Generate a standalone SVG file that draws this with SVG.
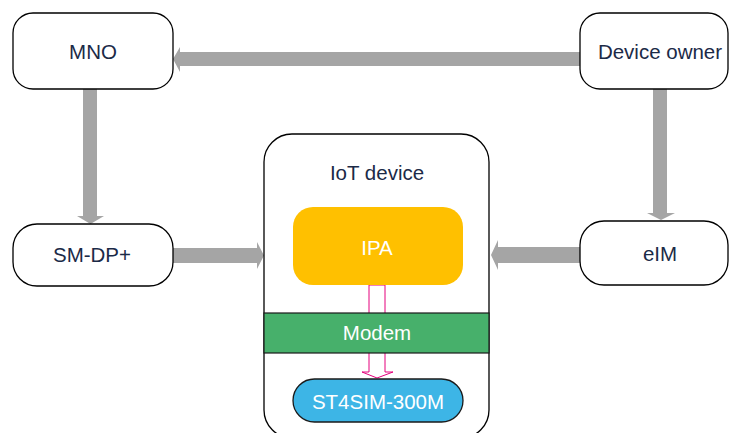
<svg xmlns="http://www.w3.org/2000/svg" width="729" height="433" viewBox="0 0 729 433">
<style>
.box{fill:#fff;stroke:#000;stroke-width:1.3}
.t{font-family:"Liberation Sans",Arial,sans-serif;font-size:20.5px;text-anchor:middle;dominant-baseline:central;fill:#1b2a47}
.w{fill:#fff}
.g{fill:#a5a5a5}
.pink{fill:#fff;stroke:#e4007c;stroke-width:1}
</style>
<rect width="729" height="433" fill="#fff"/>
<g id="connectors">
<polygon class="g" points="580,52 180,52 180,47 173,59 180,72 180,66 580,66"/>
<polygon class="g" points="83,89 97,89 97,216 104,216 90.5,224 77,216 83,216"/>
<polygon class="g" points="653,89 667,89 667,213 675,213 661,220 647,213 653,213"/>
<polygon class="g" points="173,248 257,248 257,242 264,255.5 257,269 257,263 173,263"/>
<polygon class="g" points="580,247 498,247 498,240 491,255 498,270 498,263 580,263"/>
</g>
<g id="mno"><rect class="box" x="13" y="13" width="160" height="76" rx="20"/><text class="t" x="93" y="51">MNO</text></g>
<g id="device-owner"><rect class="box" x="580" y="13" width="148" height="76" rx="20"/><text class="t" x="660" y="51">Device owner</text></g>
<g id="smdp"><rect class="box" x="13" y="224" width="160" height="62" rx="24"/><text class="t" x="92" y="254">SM-DP+</text></g>
<g id="eim"><rect class="box" x="580" y="221" width="148" height="64" rx="24"/><text class="t" x="660" y="253">eIM</text></g>
<g id="iot-device">
<rect class="box" x="264" y="134" width="225" height="304" rx="28"/>
<text class="t" x="377" y="172">IoT device</text>
<g id="pink-arrow"><polygon class="pink" points="369,285 385,285 385,372 393,372 377,378 362,372 369,372"/></g>
<g id="ipa"><rect x="293" y="207" width="170" height="78" rx="20" fill="#ffc000"/><text class="t w" x="377" y="247">IPA</text></g>
<g id="modem"><rect x="264" y="313" width="225" height="40" fill="#47b06b" stroke="#1a1a1a" stroke-width="1.2"/><text class="t w" x="377" y="332">Modem</text></g>
<g id="st4sim"><rect x="293" y="379" width="170" height="43" rx="21.5" fill="#3db5e6" stroke="#1a1a1a" stroke-width="1.3"/><text class="t w" x="378" y="401">ST4SIM-300M</text></g>
</g>
</svg>
